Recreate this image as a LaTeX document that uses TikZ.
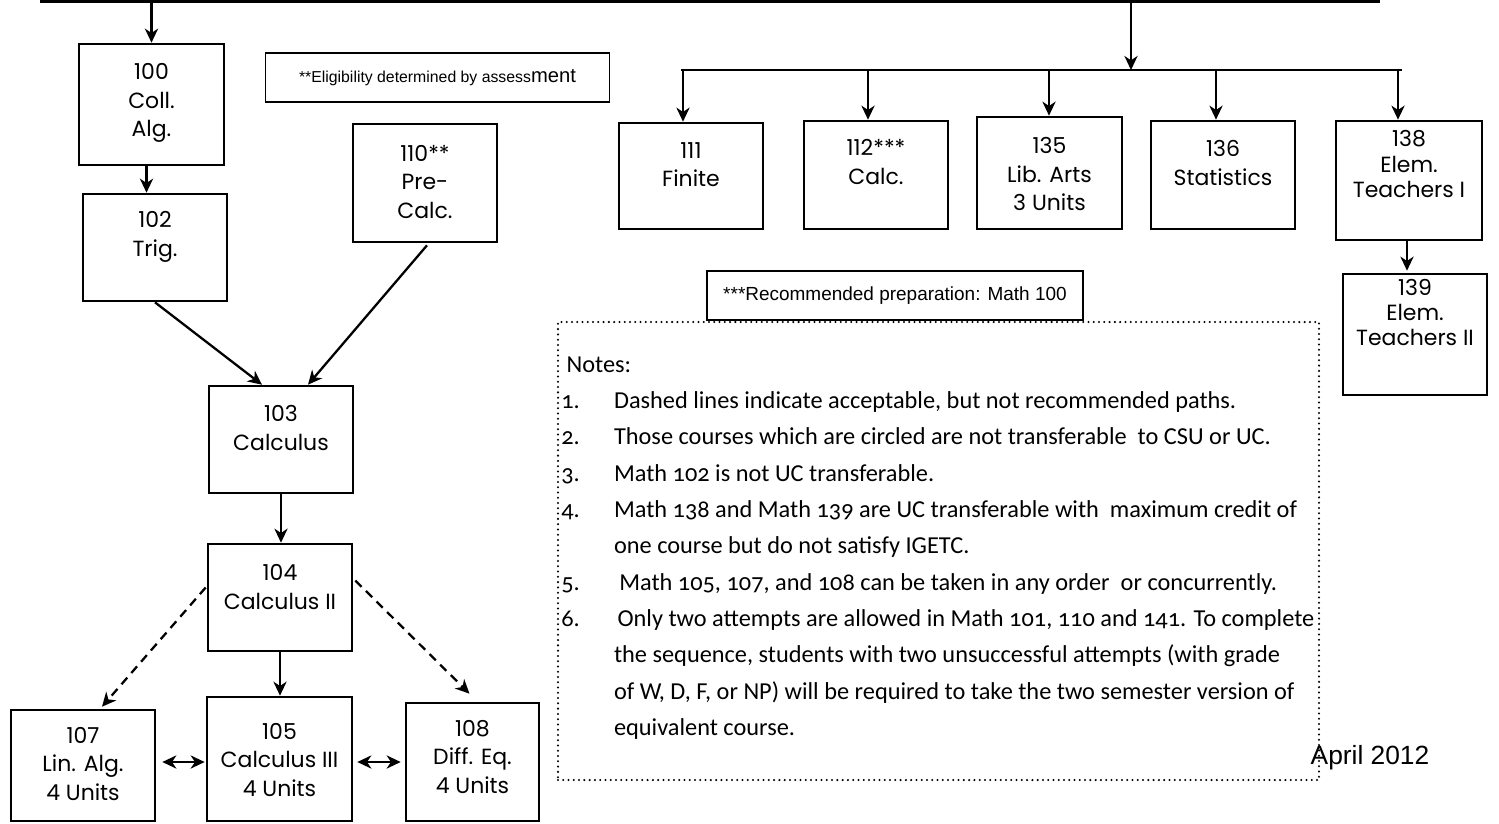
\documentclass[tikz,border=0pt]{standalone}
\usepackage{fontspec}
\setmainfont{Poppins}
\newfontfamily\helvfont{Liberation Sans}
\newfontfamily\notefont[Numbers=OldStyle]{Carlito}
\usetikzlibrary{arrows.meta,calc,fit}

\def\pxu{0.02cm}
\newcommand\coursefont{\fontsize{12.5}{16.2}\selectfont}
\newcommand\coursetight{\fontsize{12.5}{14.5}\selectfont}

\tikzset{
  course/.style={draw, line width=1.5pt, inner sep=0pt},
  ctext/.style={font=\coursefont, align=center, inner sep=0pt},
  ctight/.style={ctext, font=\coursetight},
  arr/.style={-{Stealth[length=8pt,width=7.5pt,inset=2.5pt]}, line width=1.3pt},
  dblarr/.style={{Stealth[length=8pt,width=7.5pt,inset=2.5pt]}-{Stealth[length=8pt,width=7.5pt,inset=2.5pt]}, line width=1.3pt},
  dasharr/.style={arr, dash pattern=on 5pt off 3.5pt},
  notebox/.style={draw, line width=1.1pt, font=\helvfont, inner sep=0pt},
  dotbox/.style={draw, line width=1.3pt, dash pattern=on 0pt off 3pt, line cap=round, inner sep=0pt},
}

\begin{document}
\begin{tikzpicture}[x=0.02cm, y=-0.02cm]
  \useasboundingbox (0,0) rectangle (1499,823);

  % top distribution lines
  \coordinate (busL) at (40,1.5);
  \coordinate (busR) at (1380,1.5);
  \coordinate (bus2in) at (1131,1.5);
  \coordinate (bus2L) at (681,70);
  \coordinate (bus2R) at (1402,70);
  \draw[line width=1.7pt] (busL) -- (busR);
  \draw[line width=1.4pt] (bus2L) -- (bus2R);

  % calculus track (left)
  \node[course, fit={(79,44) (224,165)}] (c100) {};
  \node[course, fit={(83,194) (227,301)}] (c102) {};
  \node[course, fit={(353,124) (497,242)}] (c110) {};
  \node[course, fit={(209,386) (353,493)}] (c103) {};
  \node[course, fit={(208,544) (352,651)}] (c104) {};
  \node[course, fit={(11,710) (155,821)}] (c107) {};
  \node[course, fit={(207,697) (352,821)}] (c105) {};
  \node[course, fit={(406,703) (539,821)}] (c108) {};

  \node[ctext] (t100) at (151.5,103) {100\\Coll.\\Alg.};
  \node[ctext] (t102) at (155,237) {102\\Trig.};
  \node[ctext] (t110) at (425,182) {110**\\Pre-\\Calc.};
  \node[ctext] (t103) at (281,428) {103\\Calculus};
  \node[ctext] (t104) at (280,587) {104\\Calculus II};
  \node[ctext] (t107) at (83,764) {107\\Lin. Alg.\\4 Units};
  \node[ctext] (t105) at (279.5,760) {105\\Calculus III\\4 Units};
  \node[ctext] (t108) at (472.5,757) {108\\Diff. Eq.\\4 Units};

  % other courses (right)
  \node[course, fit={(619,123) (763,229)}] (c111) {};
  \node[course, fit={(804,121) (948,229)}] (c112) {};
  \node[course, fit={(977,117) (1122,229)}] (c135) {};
  \node[course, fit={(1151,121) (1295,229)}] (c136) {};
  \node[course, fit={(1336,121) (1482,240)}] (c138) {};
  \node[course, fit={(1343,274) (1487,395)}] (c139) {};

  \node[ctext] (t111) at (691,164.5) {111\\Finite};
  \node[ctext] (t112) at (876,162) {112***\\Calc.};
  \node[ctext] (t135) at (1049.5,174) {135\\Lib. Arts\\3 Units};
  \node[ctext] (t136) at (1223,163) {136\\Statistics};
  \node[ctight] (t138) at (1409,164) {138\\Elem.\\Teachers I};
  \node[ctight] (t139) at (1415,312.5) {139\\Elem.\\Teachers II};

  % arrows
  \draw[arr] (c100.north |- busL) -- (c100.north);
  \draw[arr] (bus2in) -- (bus2in |- bus2L);
  \foreach \x/\n in {683/c111, 868/c112, 1049/c135, 1216/c136, 1398/c138} {
    \coordinate (d\n) at (\x,70);
    \draw[arr] (d\n) -- (d\n |- \n.north);
  }
  \draw[arr] ($(c100.south)+(-5,0)$) -- ($(c100.south |- c102.north)+(-5,0)$);
  \draw[arr] (c102.south) -- ($(c103.north)+(-19,0)$);
  \draw[arr] ($(c110.south)+(2,2)$) -- ($(c103.north)+(27,0)$);
  \draw[arr] (c103.south) -- (c103.south |- c104.north);
  \draw[arr] (c104.south) -- (c104.south |- c105.north);
  \draw[dasharr] ($(c104.west)+(-1,-10)$) -- ($(c107.north)+(19,-2)$);
  \draw[dasharr] ($(c104.east)+(2,-17)$) -- ($(c108.north)+(-3,-8)$);
  \coordinate (row) at (0,762);
  \draw[dblarr] ($(row -| c107.east)+(6,0)$) -- ($(row -| c105.west)+(-1,0)$);
  \draw[dblarr] ($(row -| c105.east)+(4,0)$) -- ($(row -| c108.west)+(-4,0)$);
  \draw[arr] ($(c138.south)+(-2,0)$) -- ($(c138.south |- c139.north)+(-2,-2)$);

  % footnote boxes
  \node[notebox, minimum width=344*\pxu, minimum height=49*\pxu] (elig) at (437.5,77.5)
    {{\fontsize{9}{11}\selectfont **Eligibility determined by assess}{\fontsize{11.5}{13}\selectfont ment}};
  \node[dotbox, fit={(558,322) (1319,780)}] (notes) {};
  \node[notebox, fill=white, minimum width=376*\pxu, minimum height=49*\pxu] (rec) at (895,295.5)
    {\fontsize{10.8}{13}\selectfont ***Recommended preparation: Math 100};

  % notes
  \node[anchor=base west, inner sep=0pt, font=\notefont\fontsize{13.85}{20.7}\selectfont] (notetext) at (561,372) {%
    \begin{tabular}[t]{@{}p{30pt}@{}l@{}}
      \multicolumn{2}{@{}l@{}}{\hspace{3pt}Notes:}\\
      1. & Dashed lines indicate acceptable, but not recommended paths.\\
      2. & Those courses which are circled are not transferable\ \ to CSU or UC.\\
      3. & Math 102 is not UC transferable.\\
      4. & Math 138 and Math 139 are UC transferable with\ \ maximum credit of\\
         & one course but do not satisfy IGETC.\\
      5. & \hspace{3pt}Math 105, 107, and 108 can be taken in any order\ \ or concurrently.\\
      6. & \hspace{2pt}Only two attempts are allowed in Math 101, 110 and 141. To complete\\
         & the sequence, students with two unsuccessful attempts (with grade\\
         & of W, D, F, or NP) will be required to take the two semester version of\\
         & equivalent course.
    \end{tabular}};
  \node[inner sep=0pt, font=\helvfont\fontsize{15}{18}\selectfont] (date) at (1370,758) {April 2012};
\end{tikzpicture}
\end{document}
